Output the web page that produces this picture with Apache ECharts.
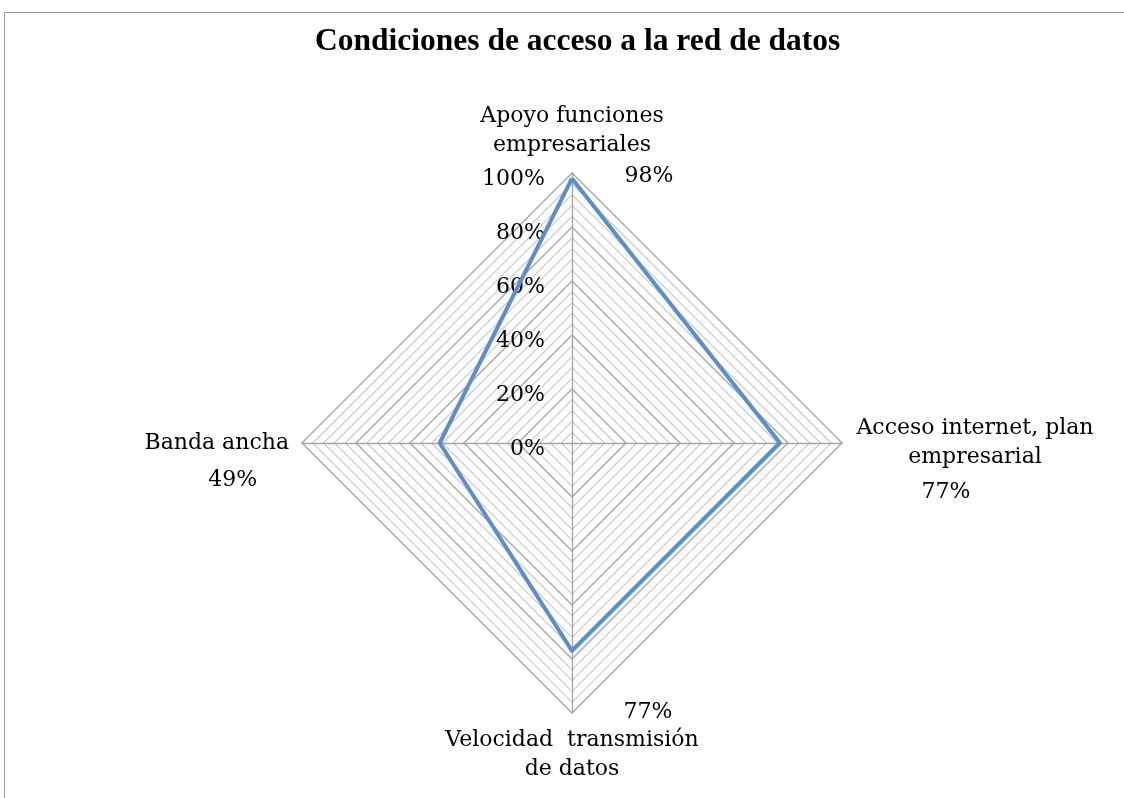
<!DOCTYPE html>
<html><head><meta charset="utf-8">
<script src="https://cdn.jsdelivr.net/npm/echarts@6/dist/echarts.min.js"></script>
<style>html,body{margin:0;padding:0;background:#fff}#c{width:1124px;height:798px}</style>
</head><body><div id="c"></div>
<script>
// Data (in the order ECharts lays indicators out: counter-clockwise from top)
var titleText = 'Condiciones de acceso a la red de datos';
var categories = ['Apoyo funciones\nempresariales', 'Banda ancha', 'Velocidad  transmisión\nde datos', 'Acceso internet, plan\nempresarial'];
var values = [98, 49, 77, 77];
var axisMax = 100;
var tickStep = 4;        // minor rings
var labelStep = 20;      // labelled rings

var FONT = 'DejaVu Serif';
var FS = 22;
var labelOffsets = [[77, -2], [-207, 37], [76, 61], [166, 49]];

var chart = echarts.init(document.getElementById('c'), null, {renderer: 'canvas'});

var indicators = categories.map(function (c, i) {
  var ind = {name: c, max: axisMax, min: 0};
  if (i === 0) {
    ind.axisLabel = {
      show: true, color: '#000', fontFamily: FONT, fontSize: FS, margin: 27,
      verticalAlign: 'top', lineHeight: 13,
      formatter: function (v) { var r = Math.round(v); return r % labelStep === 0 ? r + '%' : ''; }
    };
  }
  return ind;
});

var splitColors = [];
for (var k = 0; k < labelStep / tickStep; k++) splitColors.push(k === 0 ? '#a4a4a4' : '#cfcfcf');

var labelData = values.map(function (v, i) {
  var arr = values.map(function () { return '-'; });
  arr[i] = v;
  return {value: arr, label: {offset: labelOffsets[i]}};
});

chart.setOption({
  backgroundColor: '#fff',
  animation: false,
  title: {
    text: titleText, left: 310, top: 21,
    textStyle: {fontFamily: 'Liberation Serif', fontWeight: 'bold', fontSize: 31.5, color: '#000'}
  },
  graphic: [{type: 'rect', shape: {x: 4.5, y: 12.5, width: 1300, height: 1000}, style: {fill: 'none', stroke: '#999', lineWidth: 1}, silent: true}],
  radar: {
    center: [572, 443],
    radius: 270,
    startAngle: 90,
    shape: 'polygon',
    splitNumber: axisMax / tickStep,
    indicator: indicators,
    nameGap: 13,
    axisName: {
      color: '#000', fontFamily: FONT, fontSize: FS, lineHeight: 29,
      formatter: function (name) {
        var lines = name.split('\n');
        if (lines.length === 1) return name;
        return lines.map(function (l) { return '{a|' + l + '}'; }).join('\n');
      },
      rich: {a: {fontFamily: FONT, fontSize: FS, lineHeight: 29, color: '#000', width: 240, align: 'center'}}
    },
    axisLine: {show: true, lineStyle: {color: '#a4a4a4', width: 1.3}},
    axisTick: {show: false},
    axisLabel: {show: false},
    splitLine: {show: true, lineStyle: {color: splitColors, width: 1.3}},
    splitArea: {show: false}
  },
  series: [{
    type: 'radar',
    symbol: 'none',
    lineStyle: {color: '#5A8FCA', width: 4},
    data: [{value: values}]
  }, {
    type: 'radar',
    symbol: 'circle',
    symbolSize: 1,
    itemStyle: {color: 'rgba(0,0,0,0)'},
    lineStyle: {width: 0, opacity: 0},
    label: {
      show: true, position: 'inside', color: '#000', fontFamily: FONT, fontSize: FS,
      formatter: function (p) { var v = p.value; return (v === '-' || isNaN(v)) ? '' : v + '%'; }
    },
    data: labelData
  }]
});
</script></body></html>
